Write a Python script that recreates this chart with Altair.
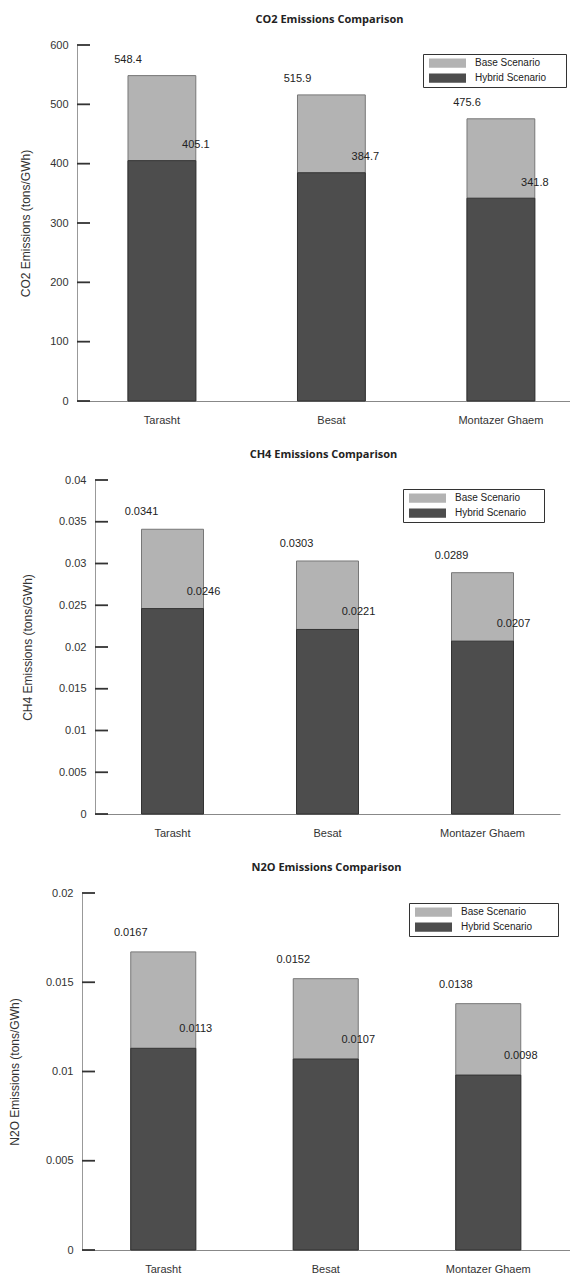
import altair as alt
import pandas as pd

plants = ["Tarasht", "Besat", "Montazer Ghaem"]
scenarios = ["Base Scenario", "Hybrid Scenario"]

co2_base = [548.4, 515.9, 475.6]
co2_hybrid = [405.1, 384.7, 341.8]
ch4_base = [0.0341, 0.0303, 0.0289]
ch4_hybrid = [0.0246, 0.0221, 0.0207]
n2o_base = [0.0167, 0.0152, 0.0138]
n2o_hybrid = [0.0113, 0.0107, 0.0098]

co2_ticks = [0, 100, 200, 300, 400, 500, 600]
ch4_ticks = [0, 0.005, 0.01, 0.015, 0.02, 0.025, 0.03, 0.035, 0.04]
n2o_ticks = [0, 0.005, 0.01, 0.015, 0.02]

titles = ["CO2 Emissions Comparison", "CH4 Emissions Comparison", "N2O Emissions Comparison"]
y_titles = ["CO2 Emissions (tons/GWh)", "CH4 Emissions (tons/GWh)", "N2O Emissions (tons/GWh)"]

BASE = "#b3b3b3"
HYB = "#4d4d4d"
FONT = "Liberation Sans, Arial, sans-serif"
TFONT = "Open Sans"


def panel(base, hybrid, ticks, title, ytitle, width, xscale, height, lx, ly, spaces, tx, dy, tdx):
    df = pd.DataFrame({
        "plant": plants * 2,
        "scenario": [scenarios[0]] * 3 + [scenarios[1]] * 3,
        "value": base + hybrid,
    })
    tdf = pd.DataFrame({"tick": ticks})

    xaxis = alt.Axis(title=None, labelAngle=0, ticks=False, labelPadding=13,
                     domainColor="#888", domainWidth=1, labelFontSize=11,
                     labelColor="#333", labelFont=FONT)
    yscale = alt.Scale(domain=[0, ticks[-1]], nice=False)
    yaxis = alt.Axis(values=ticks, format="~r", ticks=False, grid=False, labelPadding=9,
                     domainColor="#999", domainWidth=1, labelFontSize=11, labelColor="#333",
                     labelFont=FONT, title=ytitle, titleFontSize=12, titleFontWeight="normal",
                     titleColor="#333", titleFont=FONT, titleX=tx, titleY=height / 2,
                     titleAngle=270, titleBaseline="middle", titleAlign="center")
    pad = " " * spaces + "\u200b"
    legend = alt.Legend(title=None, orient="none", legendX=lx, legendY=ly, direction="vertical",
                        symbolType="M-1,-0.25H1V0.25H-1Z", symbolSize=1369, symbolStrokeWidth=0,
                        clipHeight=12, rowPadding=3, padding=3, strokeColor="#333",
                        fillColor="white", labelFontSize=10, labelFont=FONT, labelColor="#222",
                        labelOffset=9, symbolOffset=3,
                        labelExpr="datum.label + '" + pad + "'")
    color = alt.Color("scenario:N", scale=alt.Scale(domain=scenarios, range=[BASE, HYB]),
                      legend=legend)

    x = alt.X("plant:N", sort=plants, scale=xscale, axis=xaxis)
    y = alt.Y("value:Q", scale=yscale, axis=yaxis)

    base_bar = alt.Chart(df).transform_filter(alt.datum.scenario == scenarios[0]).mark_bar(
        stroke="#777", strokeWidth=1).encode(x=x, y=y, color=color)
    hyb_bar = alt.Chart(df).transform_filter(alt.datum.scenario == scenarios[1]).mark_bar(
        stroke="#333", strokeWidth=1).encode(x=x, y=y, color=color)

    base_txt = alt.Chart(df).transform_filter(alt.datum.scenario == scenarios[0]).mark_text(
        dy=dy, fontSize=11, color="#222", font=FONT, align="center", baseline="middle").encode(
        x=alt.X("plant:N", sort=plants, bandPosition=0),
        y=alt.Y("value:Q"),
        text=alt.Text("value:Q", format="~g"))
    hyb_txt = alt.Chart(df).transform_filter(alt.datum.scenario == scenarios[1]).mark_text(
        dy=dy, fontSize=11, color="#222", font=FONT, align="center", baseline="middle").encode(
        x=alt.X("plant:N", sort=plants, bandPosition=1),
        y=alt.Y("value:Q"),
        text=alt.Text("value:Q", format="~g"))

    tick_rule = alt.Chart(tdf).mark_rule(color="#333", strokeWidth=1.8).encode(
        y=alt.Y("tick:Q", scale=yscale, axis=yaxis), x=alt.value(0), x2=alt.value(13))

    return alt.layer(base_bar, hyb_bar, base_txt, hyb_txt, tick_rule).properties(
        width=width, height=height,
        title=alt.TitleParams(text=title, frame="group", anchor="middle", fontSize=11,
                              font=TFONT, fontWeight="bold", color="#222", offset=14, dx=tdx))


xs1 = alt.Scale(paddingInner=0.6, paddingOuter=0.2543, align=0.5916, round=False)
xs2 = alt.Scale(paddingInner=0.6, paddingOuter=0.3, range=[0, 465], round=False)
xs3 = alt.Scale(paddingInner=0.6, paddingOuter=0.3, range=[0, 487.5], round=False)

p1 = panel(co2_base, co2_hybrid, co2_ticks, titles[0], y_titles[0], 493, xs1, 356,
           346, 9, 6, -52, -15.5, 6)
p2 = panel(ch4_base, ch4_hybrid, ch4_ticks, titles[1], y_titles[1], 457, xs2, 334,
           308, 9, 5, -68, -17, 0)
p3 = panel(n2o_base, n2o_hybrid, n2o_ticks, titles[2], y_titles[2], 483, xs3, 357,
           327, 10, 8, -68, -19, 3)

chart = alt.vconcat(p1, p2, p3, spacing=79, center=True, bounds="flush").properties(
    padding={"left": 0, "top": 6, "right": 0, "bottom": 0}
).resolve_scale(color="independent").configure_view(stroke=None)

chart.save("out.html", embed_options={"renderer": "svg", "actions": False})
